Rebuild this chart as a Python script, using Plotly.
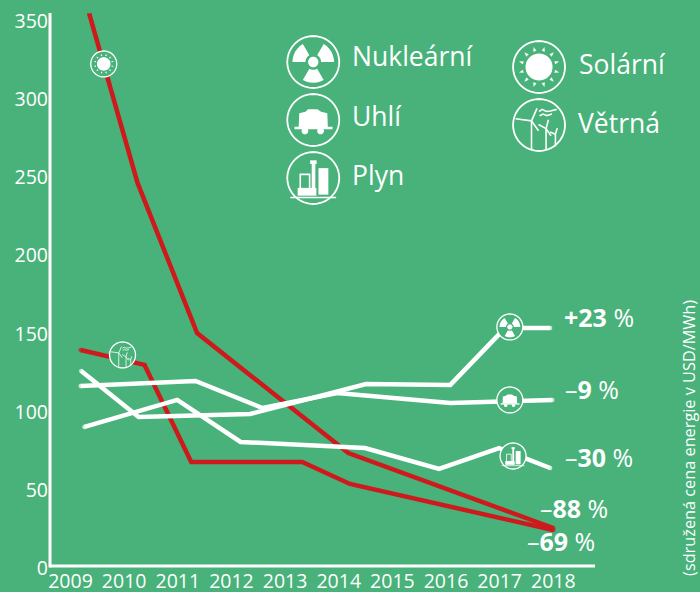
import math
import plotly.graph_objects as go

BG = "#48B27A"
RED = "#CE191D"
WHITE = "#FFFFFF"
FONT = "Open Sans, sans-serif"

# Series values (year position, USD/MWh)
solar_x = [2009.35, 2010.25, 2011.36, 2014.18, 2018.0]
solar_y = [354.7, 246.5, 150.4, 73.6, 25.6]
wind_x = [2009.19, 2010.38, 2011.25, 2013.32, 2014.21, 2018.0]
wind_y = [139.6, 130.0, 67.9, 67.9, 53.8, 24.3]
nuclear_x = [2009.2, 2010.27, 2012.35, 2014.51, 2016.08, 2017.1, 2017.94]
nuclear_y = [126.1, 96.7, 98.6, 117.8, 117.2, 153.6, 153.6]
coal_x = [2009.19, 2011.33, 2012.58, 2013.97, 2016.08, 2017.98]
coal_y = [116.5, 119.7, 102.4, 112.0, 105.6, 107.6]
gas_x = [2009.26, 2010.99, 2012.17, 2014.49, 2015.87, 2016.99, 2017.94]
gas_y = [90.3, 107.6, 80.7, 76.8, 63.4, 76.8, 64.0]

years = [2009, 2010, 2011, 2012, 2013, 2014, 2015, 2016, 2017, 2018]
y_ticks = [0, 50, 100, 150, 200, 250, 300, 350]
axis_floor = 1.28  # the drawn baseline sits just above the zero label's position
y_top = 355.3

# Plot frame in page pixels
W, H = 700, 592
L, R, T, B = 49.5, 595.0, 13.0, 568.0


def px(x):
    return (x - L) / (R - L)


def py(y):
    return (B - y) / (B - T)


def poly(points, close=True):
    s = "M" + " L".join(f"{x:.2f},{y:.2f}" for x, y in points)
    return s + (" Z" if close else "")


def circle(cx, cy, r, n=40):
    return [(cx + r * math.cos(2 * math.pi * i / n), cy + r * math.sin(2 * math.pi * i / n)) for i in range(n)]


def scaled(points, r):
    return [(x * r, y * r) for x, y in points]


def rect(x0, y0, x1, y1):
    return [(x0, y0), (x1, y0), (x1, y1), (x0, y1)]


def wedge(center, half=30, r0=0.3, r1=0.8):
    pts = []
    for i in range(7):
        a = math.radians(center - half + 2 * half * i / 6)
        pts.append((r1 * math.cos(a), r1 * math.sin(a)))
    for i in range(7):
        a = math.radians(center + half - 2 * half * i / 6)
        pts.append((r0 * math.cos(a), r0 * math.sin(a)))
    return pts


def icon_parts(kind):
    fills, strokes = [], []
    if kind == "nuclear":
        fills = [circle(0, 0, 0.2), wedge(150), wedge(30), wedge(270)]
    elif kind == "coal":
        fills = [
            [(-0.2, 0.41), (0.16, 0.41), (0.3, 0.32), (0.54, 0.26), (0.56, -0.28), (-0.56, -0.28), (-0.54, 0.26), (-0.3, 0.32)],
            rect(-0.72, -0.26, 0.74, -0.36),
            circle(-0.32, -0.42, 0.13),
            circle(0.28, -0.42, 0.13),
        ]
    elif kind == "gas":
        fills = [
            rect(0.2, -0.64, 0.58, 0.38),
            rect(-0.06, -0.64, 0.08, 0.62),
            rect(-0.12, 0.54, 0.13, 0.68),
            rect(-0.6, -0.68, 0.12, -0.38),
            rect(-0.88, -0.78, 0.88, -0.72),
        ]
        strokes = [poly([(-0.5, -0.38), (-0.5, 0.14), (-0.14, 0.14), (-0.14, -0.38)], False)]
    elif kind == "solar":
        fills = [circle(0, 0, 0.52)]
        for i in range(12):
            a = 2 * math.pi * (i + 0.5) / 12
            fills.append([
                (0.8 * math.cos(a), 0.8 * math.sin(a)),
                (0.63 * math.cos(a + 0.1), 0.63 * math.sin(a + 0.1)),
                (0.63 * math.cos(a - 0.1), 0.63 * math.sin(a - 0.1)),
            ])
    elif kind == "wind":
        strokes = [
            poly([(-0.29, 0.16), (-0.29, -0.95)], False),
            poly([(-0.29, 0.16), (-0.9, 0.24)], False),
            poly([(-0.29, 0.16), (-0.08, 0.64)], False),
            poly([(-0.29, 0.16), (-0.02, -0.22)], False),
            poly([(0.27, -0.14), (0.27, -0.93)], False),
            poly([(0.27, -0.14), (-0.02, 0.02)], False),
            poly([(0.27, -0.14), (0.36, 0.2)], False),
            poly([(0.27, -0.14), (0.46, -0.42)], False),
            poly([(0.63, -0.36), (0.63, -0.82)], False),
            poly([(0.63, -0.36), (0.42, -0.27)], False),
            poly([(0.63, -0.36), (0.7, -0.12)], False),
            poly([(0.0, 0.52), (0.12, 0.6), (0.28, 0.52), (0.44, 0.54), (0.68, 0.6)], False),
            poly([(0.02, 0.36), (0.16, 0.42), (0.3, 0.36), (0.5, 0.42)], False),
        ]
    return fills, strokes


def add_icon(shapes, kind, x, y, xref, yref, r, ring):
    base = dict(type="path", xref=xref, yref=yref, xsizemode="pixel", ysizemode="pixel",
                xanchor=x, yanchor=y, layer="above")
    shapes.append(dict(base, path=poly(circle(0, 0, r)), fillcolor=BG, line=dict(color=WHITE, width=ring)))
    fills, strokes = icon_parts(kind)
    for f in fills:
        shapes.append(dict(base, path=poly(scaled(f, r)), fillcolor=WHITE, line=dict(width=0)))
    for s in strokes:
        tokens = s.replace("M", "").replace("L", "").split()
        pts = [tuple(float(v) * r for v in t.split(",")) for t in tokens]
        shapes.append(dict(base, path=poly(pts, False), line=dict(color=WHITE, width=max(0.7, r / 26 * 1.6))))


fig = go.Figure()


def add_line(x, y, color):
    sizes = [4.5] + [0] * (len(x) - 2) + [4.5]
    fig.add_trace(go.Scatter(x=x, y=y, mode="lines+markers", hoverinfo="skip", showlegend=False,
                             line=dict(color=color, width=4.5),
                             marker=dict(color=color, size=sizes, line=dict(width=0))))


add_line(solar_x, solar_y, RED)
add_line(wind_x, wind_y, RED)
add_line(gas_x, gas_y, WHITE)
add_line(coal_x, coal_y, WHITE)
add_line(nuclear_x, nuclear_y, WHITE)

shapes = [
    dict(type="line", xref="paper", yref="y", x0=0, x1=1, y0=axis_floor, y1=axis_floor,
         line=dict(color=WHITE, width=3), layer="below"),
    dict(type="line", xref="paper", yref="y", x0=0, x1=0, y0=axis_floor - 1, y1=y_top,
         line=dict(color=WHITE, width=3), layer="below"),
]
for kind, x, y in [("solar", 2009.62, 322.7), ("wind", 2009.97, 136.4), ("nuclear", 2017.19, 154.3),
                   ("coal", 2017.19, 107.6), ("gas", 2017.25, 71.7)]:
    add_icon(shapes, kind, x, y, "x", "y", 13, 1.3)
for kind, x, y in [("nuclear", 313, 62), ("coal", 313, 120), ("gas", 313, 178), ("solar", 539, 67), ("wind", 539, 125)]:
    add_icon(shapes, kind, px(x), py(y), "paper", "paper", 26, 1.8)

annotations = []


def label(text, x, y, size, anchor="left", angle=0):
    annotations.append(dict(text=text, x=px(x), y=py(y), xref="paper", yref="paper", showarrow=False,
                            xanchor=anchor, yanchor="middle", textangle=angle, borderpad=0, borderwidth=0,
                            font=dict(family=FONT, size=size, color=WHITE)))


for text, x, y in [("Nukleární", 352, 56), ("Uhlí", 352, 116), ("Plyn", 352, 175), ("Solární", 579, 64), ("Větrná", 578, 123)]:
    label(text, x, y, 26.5)

for text, x, y in [("<b>+23</b> %", 564, 317), ("–<b>9</b> %", 565, 389), ("–<b>30</b> %", 565, 457),
                   ("–<b>88</b> %", 540, 508), ("–<b>69</b> %", 527, 541)]:
    label(text, x, y, 25)

label("(sdružená cena energie v USD/MWh)", 689, 438, 16.3, anchor="center", angle=-90)

fig.update_layout(
    width=W, height=H, autosize=False,
    paper_bgcolor=BG, plot_bgcolor=BG,
    margin=dict(l=L, r=W - R, t=T, b=H - B, pad=0, autoexpand=False),
    font=dict(family=FONT, color=WHITE, size=18),
    shapes=shapes, annotations=annotations, showlegend=False,
    xaxis=dict(range=[2008.618, 2018.777], tickvals=years, ticktext=[str(v) for v in years],
               automargin=False, ticklabelstandoff=-1,
               showgrid=False, zeroline=False, showline=False, ticks="",
               tickfont=dict(size=19.5, family=FONT, color=WHITE)),
    yaxis=dict(range=[0, y_top], tickvals=y_ticks, showgrid=False, zeroline=False, automargin=False,
               showline=False, ticks="", ticklabelstandoff=1,
               tickfont=dict(size=19.5, family=FONT, color=WHITE)),
)

fig.write_html("out.html", config=dict(displayModeBar=False),
               post_script="document.body.style.margin='0';document.body.style.overflow='hidden';"
                           f"document.body.style.background='{BG}';")
